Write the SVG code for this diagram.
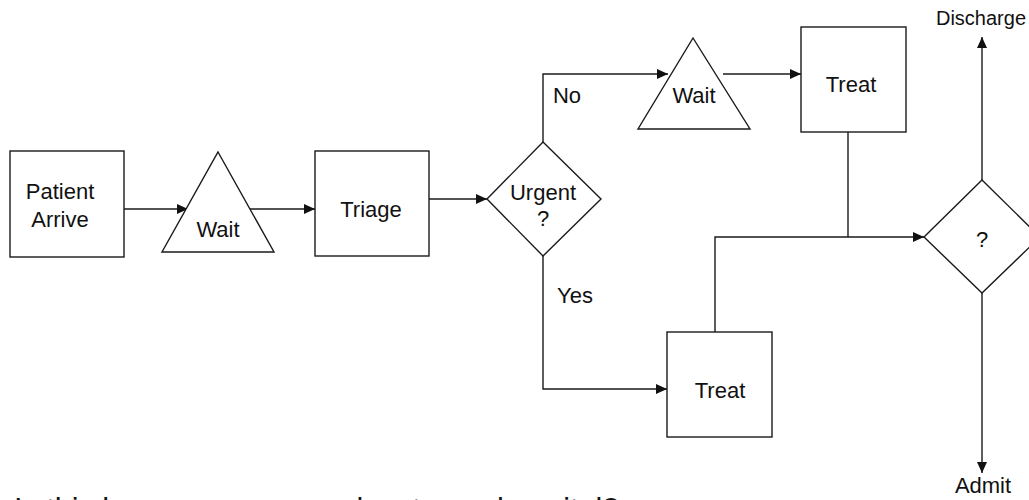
<svg xmlns="http://www.w3.org/2000/svg" width="1029" height="500" viewBox="0 0 1029 500">
  <style>
    .shape { fill: #ffffff; stroke: #1a1a1a; stroke-width: 1.4; }
    .edge { fill: none; stroke: #1a1a1a; stroke-width: 1.4; }
    .label { font-family: "Liberation Sans", Arial, sans-serif; font-size: 22px; fill: #111111; text-anchor: middle; }
    .small { font-size: 20px; }
    .note { font-family: "Liberation Sans", Arial, sans-serif; font-size: 30.5px; fill: #111111; }
  </style>
  <defs>
    <marker id="arrow" markerUnits="userSpaceOnUse" markerWidth="12" markerHeight="10" refX="11" refY="5" orient="auto">
      <path d="M0,0 L11,5 L0,10 z" fill="#111111"/>
    </marker>
  </defs>

  <rect width="1029" height="500" fill="#ffffff"/>

  <!-- connectors -->
  <g id="connectors">
    <path class="edge" d="M124,209 L188,209" marker-end="url(#arrow)"/>
    <path class="edge" d="M250,209 L315,209" marker-end="url(#arrow)"/>
    <path class="edge" d="M429,199 L487,199" marker-end="url(#arrow)"/>
    <path class="edge" d="M543,142 L543,74 L668,74" marker-end="url(#arrow)"/>
    <path class="edge" d="M723,74 L801,74" marker-end="url(#arrow)"/>
    <path class="edge" d="M543,256 L543,389 L667,389" marker-end="url(#arrow)"/>
    <path class="edge" d="M848,132 L848,237"/>
    <path class="edge" d="M715,332 L715,237 L924,237" marker-end="url(#arrow)"/>
    <path class="edge" d="M982,180 L982,37" marker-end="url(#arrow)"/>
    <path class="edge" d="M982,293 L982,473" marker-end="url(#arrow)"/>
  </g>

  <g id="patient-arrive">
    <rect class="shape" x="10" y="151" width="114" height="106"/>
    <text class="label" x="60" y="199">Patient</text>
    <text class="label" x="60" y="227">Arrive</text>
  </g>

  <g id="wait-1">
    <polygon class="shape" points="218,152 274,252 162,252"/>
    <text class="label" x="218" y="237">Wait</text>
  </g>

  <g id="triage">
    <rect class="shape" x="315" y="151" width="114" height="105"/>
    <text class="label" x="371" y="217">Triage</text>
  </g>

  <g id="urgent">
    <polygon class="shape" points="543,142 601,199 543,256 487,199"/>
    <text class="label" x="543" y="200">Urgent</text>
    <text class="label" x="543" y="226">?</text>
  </g>

  <g id="wait-2">
    <polygon class="shape" points="693,38 750,129 638,129"/>
    <text class="label" x="694" y="103">Wait</text>
  </g>

  <g id="treat-1">
    <rect class="shape" x="801" y="27" width="105" height="105"/>
    <text class="label" x="851" y="92">Treat</text>
  </g>

  <g id="treat-2">
    <rect class="shape" x="667" y="332" width="105" height="105"/>
    <text class="label" x="720" y="398">Treat</text>
  </g>

  <g id="decision">
    <polygon class="shape" points="982,180 1040,237 982,293 924,237"/>
    <text class="label" x="982" y="247">?</text>
  </g>

  <g id="edge-labels">
    <text class="label" x="567" y="103">No</text>
    <text class="label" x="575" y="303">Yes</text>
    <text class="label small" x="981" y="25">Discharge</text>
    <text class="label" x="983" y="493">Admit</text>
  </g>

  <!-- caption below the flow, running past the lower edge -->
  <text class="note" x="14" y="520">Is this how a process works at your hospital?</text>
</svg>
